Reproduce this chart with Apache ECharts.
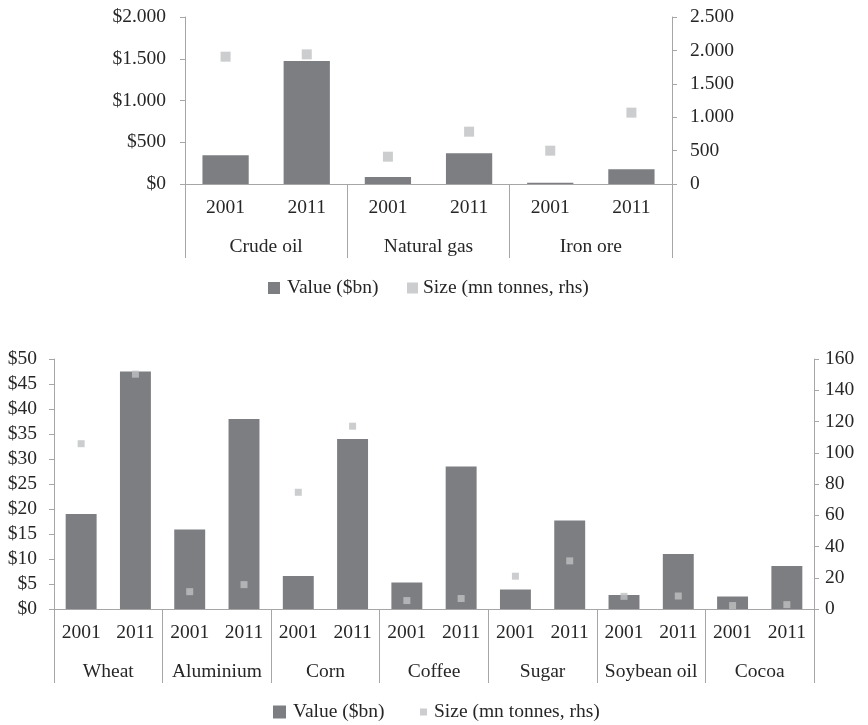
<!DOCTYPE html>
<html>
<head>
<meta charset="utf-8">
<script src="https://cdn.jsdelivr.net/npm/echarts@6/dist/echarts.min.js"></script>
<style>
html,body{margin:0;padding:0;background:#fff;}
#chart{width:868px;height:725px;}
</style>
</head>
<body>
<div id="chart"></div>
<script>
// ---- data ----
const years = ['2001', '2011'];

const energyCategories = ['Crude oil', 'Natural gas', 'Iron ore'];
const energyValue = [344, 1473, 84, 367, 15, 176];          // $bn
const energySize = [1906, 1941, 409, 783, 499, 1068];        // mn tonnes (rhs)
const energyLeftTicks = [0, 500, 1000, 1500, 2000];
const energyRightTicks = [0, 500, 1000, 1500, 2000, 2500];

const softCategories = ['Wheat', 'Aluminium', 'Corn', 'Coffee', 'Sugar', 'Soybean oil', 'Cocoa'];
const softValue = [19.0, 47.5, 15.9, 38.0, 6.6, 34.0, 5.3, 28.5, 3.9, 17.7, 2.8, 11.0, 2.5, 8.6];
const softSize = [105.8, 150.3, 11.1, 15.6, 74.7, 117, 5.4, 6.7, 21, 30.8, 8.1, 8.3, 2.2, 2.8];
const softLeftTicks = [0, 5, 10, 15, 20, 25, 30, 35, 40, 45, 50];
const softRightTicks = [0, 20, 40, 60, 80, 100, 120, 140, 160];

const valueName = 'Value ($bn)';
const sizeName = 'Size (mn tonnes, rhs)';

// ---- styling ----
const FONT = '"Liberation Serif", "Times New Roman", serif';
const TXT = '#262626';
const AX = '#a6a6a6';
const BAR = '#7d7e82';
const DOT = '#bfc0c2';
const FS = 19.5;

function dots(n) {
  return String(n).replace(/\B(?=(\d{3})+(?!\d))/g, '.');
}
function subCats(cats) {
  const out = [];
  cats.forEach(c => years.forEach(y => out.push(c + '|' + y)));
  return out;
}

const chart = echarts.init(document.getElementById('chart'), null, {renderer: 'canvas'});

function yAxisCfg(grid, pos, ticks, fmt, margin) {
  return {
    type: 'value', gridIndex: grid, position: pos,
    min: ticks[0], max: ticks[ticks.length - 1], interval: ticks[1] - ticks[0],
    axisLine: {show: true, lineStyle: {color: AX, width: 1}},
    axisTick: {show: true, length: 5, lineStyle: {color: AX}},
    splitLine: {show: false},
    axisLabel: {color: TXT, fontFamily: FONT, fontSize: FS, margin: margin, formatter: fmt}
  };
}
function yearAxis(grid, cats) {
  return {
    type: 'category', gridIndex: grid, position: 'bottom',
    data: subCats(cats),
    axisLine: {show: true, onZero: false, lineStyle: {color: AX, width: 1}},
    axisTick: {show: false},
    axisLabel: {color: TXT, fontFamily: FONT, fontSize: FS, margin: 14, interval: 0,
      formatter: v => v.split('|')[1]}
  };
}
function groupAxis(grid, cats) {
  return {
    type: 'category', gridIndex: grid, position: 'bottom',
    data: cats,
    axisLine: {show: false, onZero: false},
    axisTick: {show: true, length: 74, lineStyle: {color: AX, width: 1}},
    axisLabel: {color: TXT, fontFamily: FONT, fontSize: FS, margin: 53, interval: 0}
  };
}
function legendCfg(name, left, top, size, gap) {
  return {
    data: [name], left: left, top: top, orient: 'horizontal',
    icon: 'rect', itemWidth: size, itemHeight: size, itemGap: 0,
    selectedMode: false, padding: 0,
    textStyle: {color: TXT, fontFamily: FONT, fontSize: FS, padding: [0, 0, 0, gap]}
  };
}

const option = {
  backgroundColor: '#ffffff',
  animation: false,
  grid: [
    {left: 185, right: 196, top: 17, height: 167},
    {left: 54, right: 54, top: 359, height: 250}
  ],
  xAxis: [
    yearAxis(0, energyCategories),
    groupAxis(0, energyCategories),
    yearAxis(1, softCategories),
    groupAxis(1, softCategories)
  ],
  yAxis: [
    yAxisCfg(0, 'left', energyLeftTicks, v => '$' + dots(v), 19),
    yAxisCfg(0, 'right', energyRightTicks, v => dots(v), 18),
    yAxisCfg(1, 'left', softLeftTicks, v => '$' + v, 17),
    yAxisCfg(1, 'right', softRightTicks, v => String(v), 11)
  ],
  legend: [
    legendCfg(valueName, 268, 278, 12, 2),
    legendCfg(sizeName, 407, 278, 11, 0),
    legendCfg(valueName, 273, 702, 13, 2),
    legendCfg(sizeName, 420, 702, 7, 2)
  ],
  series: [
    {name: valueName, type: 'bar', xAxisIndex: 0, yAxisIndex: 0, data: energyValue,
      barWidth: '57%', itemStyle: {color: BAR}},
    {name: sizeName, type: 'scatter', xAxisIndex: 0, yAxisIndex: 1, data: energySize,
      symbol: 'rect', symbolSize: 10, itemStyle: {color: DOT}},
    {name: valueName, type: 'bar', xAxisIndex: 2, yAxisIndex: 2, data: softValue,
      barWidth: '57%', itemStyle: {color: BAR}},
    {name: sizeName, type: 'scatter', xAxisIndex: 2, yAxisIndex: 3, data: softSize,
      symbol: 'rect', symbolSize: 7, itemStyle: {color: DOT}}
  ]
};
chart.setOption(option);
</script>
</body>
</html>
